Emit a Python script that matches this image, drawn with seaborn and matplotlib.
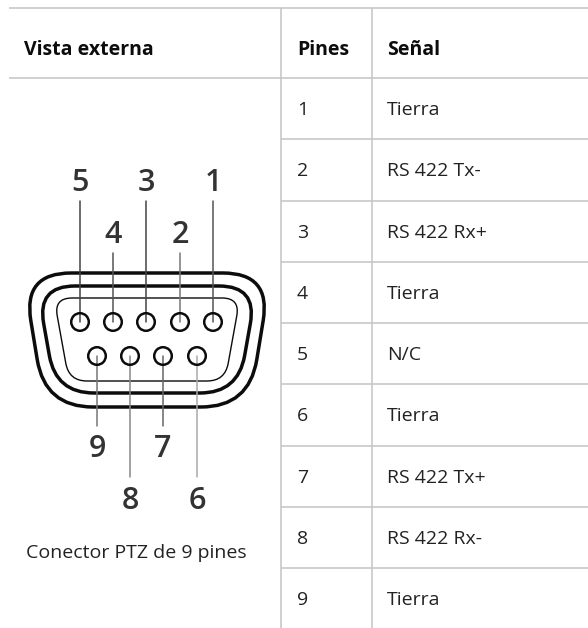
import matplotlib
matplotlib.use("Agg")
import matplotlib.pyplot as plt
from matplotlib.patches import PathPatch
from matplotlib.path import Path
import pandas as pd
import seaborn as sns

sns.set_style("white")
plt.rcParams["font.family"] = ["Open Sans", "DejaVu Sans"]

# datos de la tabla
pines = ["1", "2", "3", "4", "5", "6", "7", "8", "9"]
senales = ["Tierra", "RS 422 Tx-", "RS 422 Rx+", "Tierra", "N/C", "Tierra", "RS 422 Tx+", "RS 422 Rx-", "Tierra"]
encabezados = ["Vista externa", "Pines", "Señal"]
pie = "Conector PTZ de 9 pines"

GRIS = "#c4c4c4"
NEGRO = "#0c0c0c"
TEXTO = "#222222"

fig = plt.figure(figsize=(5.88, 6.28), dpi=100)
ax = fig.add_axes([0, 0, 1, 1])
ax.set_xlim(0, 588)
ax.set_ylim(628, 0)
ax.axis("off")

# lineas de la tabla
fila_top = 78
fila_alto = 61.25
ax.hlines([8, fila_top], 9, 588, color=GRIS, lw=1.1)
ax.hlines([fila_top + fila_alto * i for i in range(1, 9)], 281, 588, color=GRIS, lw=1.1)
ax.vlines([281, 372], 8, 628, color=GRIS, lw=1.1)

# encabezados
for txt, x in zip(encabezados, [24, 297, 387]):
    ax.text(x, 50, txt, fontsize=14, fontweight="bold", color="#0c0c0c", va="center", ha="left")

# filas
for i, (p, s) in enumerate(zip(pines, senales)):
    y = fila_top + fila_alto * (i + 0.5) + 1.5
    ax.text(297, y, p, fontsize=14, color=TEXTO, va="center", ha="left")
    ax.text(387, y, s, fontsize=14, color=TEXTO, va="center", ha="left")

ax.text(136.5, 553, pie, fontsize=14, color=TEXTO, va="center", ha="center")


# contorno del conector: trapecio con esquinas redondeadas
def contorno(top, bottom, w_top, w_bot, r, lw):
    cx = 147
    esquinas = [(cx - w_top, top), (cx + w_top, top), (cx + w_bot, bottom), (cx - w_bot, bottom)]
    verts, codes = [], []
    n = len(esquinas)
    for i, c in enumerate(esquinas):
        prev = esquinas[i - 1]
        nxt = esquinas[(i + 1) % n]
        d1 = ((prev[0] - c[0]) ** 2 + (prev[1] - c[1]) ** 2) ** 0.5
        d2 = ((nxt[0] - c[0]) ** 2 + (nxt[1] - c[1]) ** 2) ** 0.5
        a = (c[0] + (prev[0] - c[0]) * r / d1, c[1] + (prev[1] - c[1]) * r / d1)
        b = (c[0] + (nxt[0] - c[0]) * r / d2, c[1] + (nxt[1] - c[1]) * r / d2)
        verts.append(a)
        codes.append(Path.MOVETO if i == 0 else Path.LINETO)
        verts += [c, b]
        codes += [Path.CURVE3, Path.CURVE3]
    verts.append(verts[0])
    codes.append(Path.CLOSEPOLY)
    ax.add_patch(PathPatch(Path(verts, codes), fill=False, ec=NEGRO, lw=lw, zorder=3))


contorno(273, 407, 124, 102, 48, 2.5)
contorno(286, 393, 110, 91, 38, 2.5)
contorno(298, 381, 93, 78, 18, 1.0)

# patillas y guias
arriba = pd.DataFrame({
    "pin": ["5", "4", "3", "2", "1"],
    "x": [80, 113, 146, 180, 213],
    "y": [322] * 5,
    "fin": [201, 253, 201, 253, 201],
    "num": [183, 235, 183, 235, 183],
})
abajo = pd.DataFrame({
    "pin": ["9", "8", "7", "6"],
    "x": [97, 130, 163, 197],
    "y": [356] * 4,
    "fin": [426, 477, 426, 477],
    "num": [449, 501, 449, 501],
})
patillas = pd.concat([arriba, abajo], ignore_index=True)
tonos = {"5": "#444444", "4": "#555555", "3": "#444444", "2": "#777777", "1": "#555555",
         "9": "#777777", "8": "#888888", "7": "#666666", "6": "#aaaaaa"}

for _, p in patillas.iterrows():
    guia = pd.DataFrame({"x": [p["x"], p["x"]], "y": [p["y"], p["fin"]]})
    sns.lineplot(data=guia, x="x", y="y", ax=ax, color=tonos[p["pin"]], lw=1.1, sort=False,
                 estimator=None, zorder=4)
    ax.text(p["x"], p["num"], p["pin"], fontsize=22, fontweight="semibold", color="#333333",
            va="center", ha="center")

sns.scatterplot(data=patillas, x="x", y="y", ax=ax, s=160, facecolor="none", edgecolor=NEGRO,
                linewidth=1.8, zorder=5, legend=False)

ax.set_xlim(0, 588)
ax.set_ylim(628, 0)
fig.savefig("out.png", dpi=100)
